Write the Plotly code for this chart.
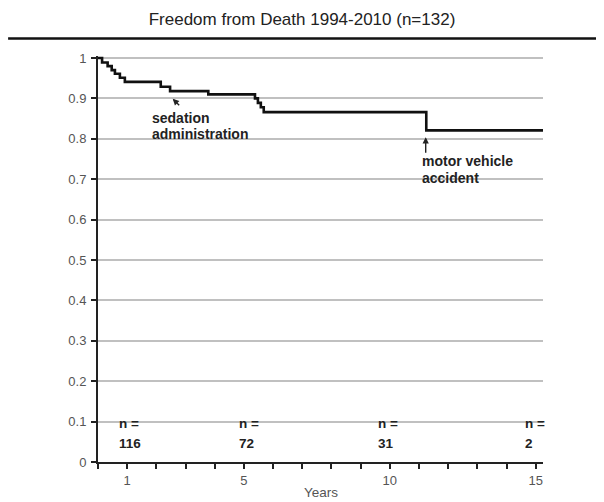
import plotly.graph_objects as go

# Kaplan-Meier style step data (years, survival)
years = [0, 0.14, 0.33, 0.47, 0.58, 0.75, 0.92, 2.15, 2.47, 3.78, 5.38, 5.48, 5.58, 5.68, 11.25, 15.25]
survival = [1.0, 0.989, 0.980, 0.970, 0.961, 0.951, 0.941, 0.929, 0.918, 0.910, 0.900, 0.889, 0.878, 0.866, 0.821, 0.821]

x_tick_vals = list(range(0, 16))
x_tick_text = ["" if v not in (1, 5, 10, 15) else str(v) for v in x_tick_vals]
y_tick_vals = [0, 0.1, 0.2, 0.3, 0.4, 0.5, 0.6, 0.7, 0.8, 0.9, 1]
y_tick_text = ["0", "0.1", "0.2", "0.3", "0.4", "0.5", "0.6", "0.7", "0.8", "0.9", "1"]

n_at_risk_x = [0.64, 4.78, 9.52, 14.57]
n_at_risk = ["116", "72", "31", "2"]

FONT = "Liberation Sans, Arial, sans-serif"
TXT = "#222222"

# figure geometry (page is offset by the 8px body margin)
L, R, T, B = 90, 68.5, 47.5, 47.5
W, H = 604, 502
PH = H - T - B

fig = go.Figure()
fig.add_trace(go.Scatter(
    x=years, y=survival, mode="lines", line=dict(color="#111111", width=2.6, shape="hv"),
    showlegend=False, hoverinfo="skip"))

ann = []
for xv, nv in zip(n_at_risk_x, n_at_risk):
    ann.append(dict(x=xv, y=0.0963, xref="x", yref="y", text="<b>n =</b>", showarrow=False,
                    xanchor="left", yanchor="middle", font=dict(family=FONT, size=13.5, color=TXT)))
    ann.append(dict(x=xv, y=0.047, xref="x", yref="y", text="<b>" + nv + "</b>", showarrow=False,
                    xanchor="left", yanchor="middle", font=dict(family=FONT, size=13.5, color=TXT)))

ann += [
    dict(x=1.78, y=0.852, xref="x", yref="y", text="<b>sedation</b>", showarrow=False,
         xanchor="left", yanchor="middle", font=dict(family=FONT, size=14, color=TXT)),
    dict(x=1.78, y=0.811, xref="x", yref="y", text="<b>administration</b>", showarrow=False,
         xanchor="left", yanchor="middle", font=dict(family=FONT, size=14, color=TXT)),
    dict(x=2.56, y=0.899, xref="x", yref="y", text="", showarrow=True, ax=8, ay=8,
         arrowhead=2, arrowsize=0.9, arrowwidth=1.4, arrowcolor=TXT),
    dict(x=11.05, y=0.744, xref="x", yref="y", text="<b>motor vehicle</b>", showarrow=False,
         xanchor="left", yanchor="middle", font=dict(family=FONT, size=14, color=TXT)),
    dict(x=11.05, y=0.704, xref="x", yref="y", text="<b>accident</b>", showarrow=False,
         xanchor="left", yanchor="middle", font=dict(family=FONT, size=14, color=TXT)),
    dict(x=11.23, y=0.804, xref="x", yref="y", text="", showarrow=True, ax=0, ay=17,
         arrowhead=2, arrowsize=0.9, arrowwidth=1.4, arrowcolor=TXT),
    dict(x=0.5, y=(H - B - 485) / PH, xref="paper", yref="paper", text="Years", showarrow=False,
         xanchor="center", yanchor="middle", font=dict(family=FONT, size=13.5, color="#555555")),
]

line_y = (H - B - 30) / PH

fig.update_layout(
    width=W, height=H,
    margin=dict(l=L, r=R, t=T, b=B, autoexpand=False),
    paper_bgcolor="white", plot_bgcolor="white",
    font=dict(family=FONT, color="#555555", size=13),
    title=dict(text="Freedom from Death 1994-2010 (n=132)", x=294 / W, xanchor="center",
               y=1 - 11 / H, yanchor="middle", font=dict(family=FONT, size=17, color=TXT)),
    annotations=ann,
    shapes=[dict(type="line", xref="paper", yref="paper", x0=-L / (W - L - R), x1=1.3,
                 y0=line_y, y1=line_y, line=dict(color="#111111", width=2.6))],
)

fig.update_xaxes(range=[0, 15.25], tickvals=x_tick_vals, ticktext=x_tick_text, automargin=False,
                 showgrid=False, zeroline=False, showline=True, linecolor="#222222", linewidth=2,
                 ticks="outside", ticklen=5, tickwidth=1.5, tickcolor="#222222",
                 tickfont=dict(family=FONT, size=13, color="#555555"))
fig.update_yaxes(range=[0, 1.005], tickvals=y_tick_vals, ticktext=y_tick_text, automargin=False,
                 showgrid=True, gridcolor="#c0c0c0", gridwidth=1.5, zeroline=False,
                 showline=True, linecolor="#222222", linewidth=2, ticklabelstandoff=2,
                 ticks="outside", ticklen=5, tickwidth=1.5, tickcolor="#222222",
                 tickfont=dict(family=FONT, size=13, color="#555555"))

fig.write_html("out.html")
